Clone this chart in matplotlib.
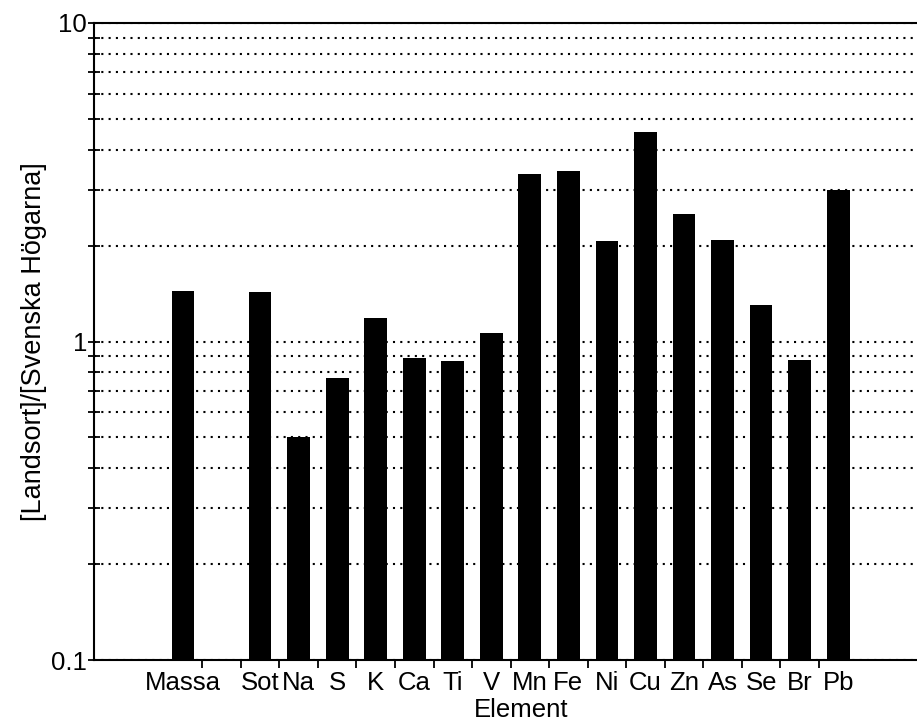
import matplotlib
matplotlib.use("Agg")
import matplotlib.pyplot as plt
import numpy as np
from matplotlib.ticker import LogLocator, NullFormatter, FixedLocator

plt.rcParams['font.family'] = ['Liberation Sans', 'DejaVu Sans']

# ratio Landsort / Svenska Hogarna
elements = ["Massa", "", "Sot", "Na", "S", "K", "Ca", "Ti", "V", "Mn", "Fe",
            "Ni", "Cu", "Zn", "As", "Se", "Br", "Pb"]
ratios = [1.44, np.nan, 1.43, 0.502, 0.768, 1.185, 0.888, 0.869, 1.063, 3.36, 3.43,
          2.07, 4.55, 2.52, 2.08, 1.30, 0.875, 2.99]

fig = plt.figure(figsize=(9.17, 7.24), dpi=100)
ax = fig.add_axes([94/917, 1 - 660/724, (948 - 94)/917, (660 - 23)/724])

x = np.arange(len(elements))
vals = np.array(ratios)
mask = ~np.isnan(vals)
ax.bar(x[mask], vals[mask], width=0.59, color='black', zorder=3)

ax.set_yscale('log')
ax.set_ylim(0.1, 10)
ax.set_xlim(-2.31, 19.85)

# dotted grid at every decade step
ax.yaxis.set_major_locator(LogLocator(base=10, subs=(1.0,)))
ax.yaxis.set_minor_locator(LogLocator(base=10, subs=np.arange(2, 10)))
ax.yaxis.set_minor_formatter(NullFormatter())
ax.set_yticks([0.1, 1, 10])
ax.set_yticklabels(["0.1", "1", "10"])
ax.grid(True, which='both', axis='y', color='black', linestyle=(0, (1, 2.5)),
        linewidth=1.5, zorder=1)

ax.tick_params(axis='y', which='both', direction='inout', length=8, width=1.3,
               labelsize=18.5, pad=1)

# labels at bar centres, tick marks between categories
ax.set_xticks(x)
ax.set_xticklabels(elements)
ax.xaxis.set_minor_locator(FixedLocator(np.arange(0.5, 17, 1.0)))
ax.tick_params(axis='x', which='major', length=0, labelsize=18.5, pad=8)
ax.tick_params(axis='x', which='minor', direction='out', length=6, width=1.3)

for side in ['left', 'bottom', 'top']:
    ax.spines[side].set_linewidth(1.5)
ax.spines['right'].set_visible(False)

ax.set_xlabel("Element", fontsize=18.5, labelpad=2)
ax.set_ylabel("[Landsort]/[Svenska Högarna]", fontsize=19.5, labelpad=3)

fig.savefig("out.png", dpi=100)
